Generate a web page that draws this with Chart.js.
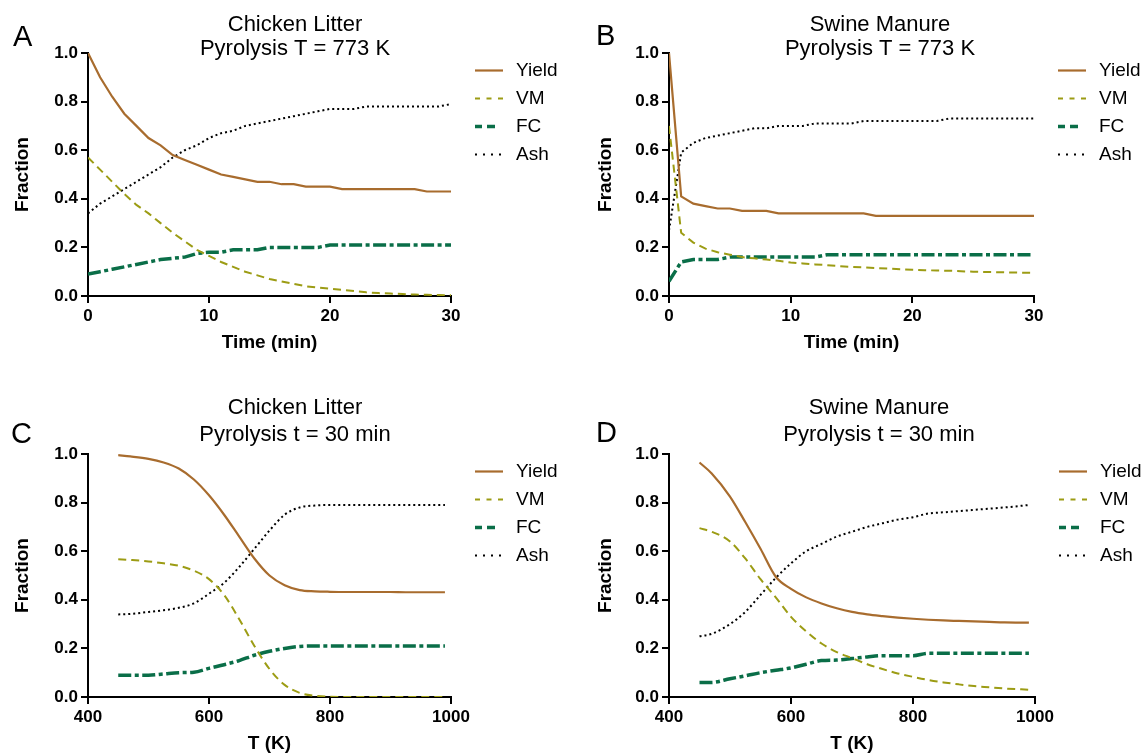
<!DOCTYPE html>
<html>
<head>
<meta charset="utf-8">
<title>Pyrolysis fractions</title>
<script src="https://cdn.jsdelivr.net/npm/chart.js@4.4.1/dist/chart.umd.min.js"></script>
<style>
  html, body { margin: 0; padding: 0; background: #fff; overflow: hidden; }
  canvas { position: absolute; }
</style>
</head>
<body>
<canvas id="chartA" width="574" height="378" style="left:0px;top:0px"></canvas>
<canvas id="chartB" width="566" height="378" style="left:582px;top:0px"></canvas>
<canvas id="chartC" width="574" height="378" style="left:0px;top:378px"></canvas>
<canvas id="chartD" width="566" height="378" style="left:582px;top:378px"></canvas>
<script>
// ==================== DATA ====================
const seriesNames = ["Yield", "VM", "FC", "Ash"];

// time axis (min) for panels A and B
const timesMin = [0, 1, 2, 3, 4, 5, 6, 7, 8, 9, 10, 11, 12, 13, 14, 15,
                  16, 17, 18, 19, 20, 21, 22, 23, 24, 25, 26, 27, 28, 29, 30];
// temperature axis (K) for panels C and D
const tempsK = [450, 470, 500, 525, 550, 575, 600, 625, 650, 675, 700,
                725, 750, 775, 800, 825, 850, 875, 900, 925, 950, 990];

const timeTicks = [0, 10, 20, 30];
const tempTicks = [400, 600, 800, 1000];
const fractionTicks = [0, 0.2, 0.4, 0.6, 0.8, 1.0];

// A - chicken litter, T = 773 K
const yieldA = [1.00, 0.90, 0.82, 0.75, 0.70, 0.65, 0.62, 0.58, 0.56, 0.54, 0.52, 0.50, 0.49, 0.48, 0.47, 0.47,
                0.46, 0.46, 0.45, 0.45, 0.45, 0.44, 0.44, 0.44, 0.44, 0.44, 0.44, 0.44, 0.43, 0.43, 0.43];
const vmA    = [0.57, 0.52, 0.47, 0.42, 0.375, 0.34, 0.30, 0.26, 0.225, 0.19, 0.165, 0.14, 0.12, 0.10, 0.085, 0.07,
                0.06, 0.05, 0.04, 0.035, 0.03, 0.025, 0.02, 0.015, 0.012, 0.01, 0.008, 0.006, 0.005, 0.004, 0.003];
const fcA    = [0.09, 0.10, 0.11, 0.12, 0.13, 0.14, 0.15, 0.155, 0.16, 0.175, 0.18, 0.18, 0.19, 0.19, 0.19, 0.20,
                0.20, 0.20, 0.20, 0.20, 0.21, 0.21, 0.21, 0.21, 0.21, 0.21, 0.21, 0.21, 0.21, 0.21, 0.21];
const ashA   = [0.34, 0.38, 0.41, 0.44, 0.47, 0.50, 0.53, 0.57, 0.60, 0.62, 0.65, 0.67, 0.68, 0.70, 0.71, 0.72,
                0.73, 0.74, 0.75, 0.76, 0.77, 0.77, 0.77, 0.78, 0.78, 0.78, 0.78, 0.78, 0.78, 0.78, 0.79];

// B - swine manure, T = 773 K
const yieldB = [1.00, 0.41, 0.38, 0.37, 0.36, 0.36, 0.35, 0.35, 0.35, 0.34, 0.34, 0.34, 0.34, 0.34, 0.34, 0.34,
                0.34, 0.33, 0.33, 0.33, 0.33, 0.33, 0.33, 0.33, 0.33, 0.33, 0.33, 0.33, 0.33, 0.33, 0.33];
const vmB    = [0.70, 0.26, 0.22, 0.195, 0.18, 0.17, 0.16, 0.155, 0.15, 0.145, 0.138, 0.134, 0.13, 0.127, 0.123, 0.12,
                0.118, 0.115, 0.113, 0.11, 0.108, 0.106, 0.105, 0.104, 0.102, 0.10, 0.099, 0.098, 0.097, 0.096, 0.095];
const fcB    = [0.06, 0.14, 0.15, 0.15, 0.15, 0.16, 0.16, 0.16, 0.16, 0.16, 0.16, 0.16, 0.16, 0.17, 0.17, 0.17,
                0.17, 0.17, 0.17, 0.17, 0.17, 0.17, 0.17, 0.17, 0.17, 0.17, 0.17, 0.17, 0.17, 0.17, 0.17];
const ashB   = [0.27, 0.59, 0.63, 0.65, 0.66, 0.67, 0.68, 0.69, 0.69, 0.70, 0.70, 0.70, 0.71, 0.71, 0.71, 0.71,
                0.72, 0.72, 0.72, 0.72, 0.72, 0.72, 0.72, 0.73, 0.73, 0.73, 0.73, 0.73, 0.73, 0.73, 0.73];

// C - chicken litter, t = 30 min
const yieldC = [0.995, 0.99, 0.98, 0.965, 0.94, 0.895, 0.83, 0.75, 0.66, 0.57, 0.50,
                0.46, 0.44, 0.435, 0.433, 0.432, 0.432, 0.432, 0.432, 0.431, 0.431, 0.431];
const vmC    = [0.567, 0.564, 0.558, 0.55, 0.54, 0.52, 0.485, 0.42, 0.32, 0.21, 0.115,
                0.05, 0.017, 0.005, 0.001, 0, 0, 0, 0, 0, 0, 0];
const fcC    = [0.09, 0.09, 0.09, 0.095, 0.10, 0.102, 0.118, 0.133, 0.15, 0.172, 0.188,
                0.20, 0.208, 0.21, 0.21, 0.21, 0.21, 0.21, 0.21, 0.21, 0.21, 0.21];
const ashC   = [0.34, 0.342, 0.35, 0.357, 0.367, 0.385, 0.425, 0.47, 0.535, 0.61, 0.685,
                0.75, 0.78, 0.788, 0.79, 0.79, 0.79, 0.79, 0.79, 0.79, 0.79, 0.79];

// D - swine manure, t = 30 min
const yieldD = [0.965, 0.92, 0.825, 0.72, 0.61, 0.495, 0.445, 0.41, 0.385, 0.365, 0.35,
                0.34, 0.333, 0.327, 0.322, 0.318, 0.315, 0.313, 0.311, 0.309, 0.307, 0.306];
const vmD    = [0.695, 0.68, 0.64, 0.57, 0.485, 0.41, 0.33, 0.27, 0.22, 0.185, 0.16,
                0.135, 0.115, 0.097, 0.083, 0.07, 0.06, 0.052, 0.045, 0.04, 0.035, 0.03];
const fcD    = [0.06, 0.06, 0.075, 0.087, 0.10, 0.11, 0.12, 0.135, 0.15, 0.152, 0.158,
                0.165, 0.17, 0.17, 0.17, 0.18, 0.18, 0.18, 0.18, 0.18, 0.18, 0.18];
const ashD   = [0.25, 0.26, 0.30, 0.35, 0.42, 0.49, 0.55, 0.60, 0.63, 0.66, 0.68,
                0.70, 0.715, 0.73, 0.74, 0.755, 0.76, 0.765, 0.77, 0.775, 0.78, 0.79];

// ==================== STYLES ====================
const FONT = '"Liberation Sans", Arial, Helvetica, sans-serif';
Chart.defaults.font.family = FONT;
Chart.defaults.color = "#000";

const lineStyles = [
    { borderColor: "#a86c2e", borderWidth: 2.2, borderDash: [],                legendDash: [] },
    { borderColor: "#9c9c14", borderWidth: 2,   borderDash: [8, 5],            legendDash: [5, 6.5] },
    { borderColor: "#0a6e48", borderWidth: 3.5, borderDash: [13, 3.5, 4, 3.5], legendDash: [7, 5, 8, 100] },
    { borderColor: "#000000", borderWidth: 2,   borderDash: [2, 3],            legendDash: [2, 6] }
];

// letter, two-line title and line legend, drawn on the canvas
const panelText = {
    id: "panelText",
    afterDraw(chart, args, opts) {
        const ctx = chart.ctx;
        const area = chart.chartArea;
        ctx.save();
        ctx.fillStyle = "#000";

        ctx.font = "29px " + FONT;
        ctx.textAlign = "left";
        ctx.textBaseline = "alphabetic";
        ctx.fillText(opts.letter, opts.letterX, opts.letterY);

        ctx.font = "22px " + FONT;
        ctx.textAlign = "center";
        opts.title.forEach((line, i) => ctx.fillText(line, opts.titleX, opts.titleY[i]));

        ctx.font = "19px " + FONT;
        ctx.textAlign = "left";
        ctx.textBaseline = "middle";
        chart.data.datasets.forEach((ds, i) => {
            const y = area.top + 17.5 + 28 * i;
            ctx.beginPath();
            ctx.strokeStyle = ds.borderColor;
            ctx.lineWidth = ds.borderWidth;
            ctx.setLineDash(ds.legendDash);
            ctx.moveTo(area.right + 24, y);
            ctx.lineTo(area.right + 52, y);
            ctx.stroke();
            ctx.fillText(ds.label, area.right + 65, y);
        });
        ctx.restore();
    }
};

// ==================== CHART BUILDER ====================
function makePanel(id, xs, series, p) {
    const canvas = document.getElementById(id);
    const datasets = series.map((vals, i) => ({
        label: seriesNames[i],
        data: vals.map((v, j) => ({ x: xs[j], y: v })),
        borderColor: lineStyles[i].borderColor,
        borderWidth: lineStyles[i].borderWidth,
        borderDash: lineStyles[i].borderDash,
        legendDash: lineStyles[i].legendDash,
        pointRadius: 0,
        fill: false,
        tension: p.smooth ? 0.4 : 0,
        cubicInterpolationMode: p.smooth ? "monotone" : "default"
    }));

    const axisGrid = {
        display: true,
        drawOnChartArea: false,
        drawTicks: true,
        tickLength: 7,
        color: "#000",
        lineWidth: 2
    };
    const axisBorder = { display: true, color: "#000", width: 2 };
    const tickFont = { size: 17, weight: "bold" };
    const titleFont = { size: 19, weight: "bold", lineHeight: 1 };

    return new Chart(canvas, {
        type: "line",
        data: { datasets },
        plugins: [panelText],
        options: {
            responsive: false,
            animation: false,
            layout: {
                padding: {
                    left: 0,
                    top: p.plot.t,
                    right: canvas.width - p.plot.r,
                    bottom: canvas.height - p.plot.b - 56
                }
            },
            plugins: {
                legend: { display: false },
                tooltip: { enabled: false },
                title: { display: false },
                panelText: p.text
            },
            scales: {
                x: {
                    type: "linear",
                    min: p.xTicks[0],
                    max: p.xTicks[p.xTicks.length - 1],
                    afterBuildTicks: (scale) => { scale.ticks = p.xTicks.map(v => ({ value: v })); },
                    afterFit: (scale) => { scale.height = 56; },
                    grid: axisGrid,
                    border: axisBorder,
                    ticks: {
                        autoSkip: false,
                        maxRotation: 0,
                        padding: 3,
                        color: "#000",
                        font: tickFont,
                        callback: (v) => String(v)
                    },
                    title: {
                        display: true,
                        text: p.xTitle,
                        color: "#000",
                        font: titleFont,
                        padding: { top: 0, bottom: 0 }
                    }
                },
                y: {
                    type: "linear",
                    min: 0,
                    max: 1,
                    afterBuildTicks: (scale) => { scale.ticks = fractionTicks.map(v => ({ value: v })); },
                    afterFit: (scale) => { scale.width = p.plot.l; },
                    grid: axisGrid,
                    border: axisBorder,
                    ticks: {
                        autoSkip: false,
                        padding: 3,
                        color: "#000",
                        font: tickFont,
                        callback: (v) => Number(v).toFixed(1)
                    },
                    title: {
                        display: true,
                        text: "Fraction",
                        color: "#000",
                        font: titleFont,
                        padding: { top: p.yTitlePad, bottom: 0 }
                    }
                }
            }
        }
    });
}

// ==================== PANELS ====================
makePanel("chartA", timesMin, [yieldA, vmA, fcA, ashA], {
    plot: { l: 88, r: 451, t: 53, b: 296 },
    xTicks: timeTicks, xTitle: "Time (min)", yTitlePad: 13, smooth: false,
    text: { letter: "A", letterX: 13, letterY: 45.5,
            title: ["Chicken Litter", "Pyrolysis T = 773 K"], titleX: 295, titleY: [31, 55.3] }
});

makePanel("chartB", timesMin, [yieldB, vmB, fcB, ashB], {
    plot: { l: 87, r: 452, t: 53, b: 296 },
    xTicks: timeTicks, xTitle: "Time (min)", yTitlePad: 14.5, smooth: false,
    text: { letter: "B", letterX: 14, letterY: 44.5,
            title: ["Swine Manure", "Pyrolysis T = 773 K"], titleX: 298, titleY: [31, 55.3] }
});

makePanel("chartC", tempsK, [yieldC, vmC, fcC, ashC], {
    plot: { l: 88, r: 451, t: 76, b: 319 },
    xTicks: tempTicks, xTitle: "T (K)", yTitlePad: 13, smooth: true,
    text: { letter: "C", letterX: 11, letterY: 64.5,
            title: ["Chicken Litter", "Pyrolysis t = 30 min"], titleX: 295, titleY: [36, 62.7] }
});

makePanel("chartD", tempsK, [yieldD, vmD, fcD, ashD], {
    plot: { l: 87, r: 453, t: 76, b: 319 },
    xTicks: tempTicks, xTitle: "T (K)", yTitlePad: 14.5, smooth: true,
    text: { letter: "D", letterX: 14, letterY: 63.5,
            title: ["Swine Manure", "Pyrolysis t = 30 min"], titleX: 297, titleY: [36, 62.7] }
});
</script>
</body>
</html>
